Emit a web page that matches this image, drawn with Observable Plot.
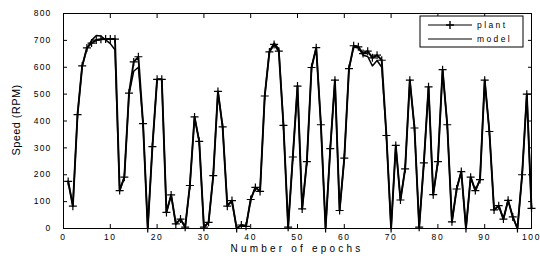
<!DOCTYPE html>
<html><head><meta charset="utf-8">
<script src="https://cdn.jsdelivr.net/npm/d3@7"></script>
<script src="https://cdn.jsdelivr.net/npm/@observablehq/plot@0.6"></script>
<style>body{margin:0;background:#fff} svg{display:block}</style>
</head><body><div id="chart"></div>
<script>
const plant = [175,83,424,605,672,690,701,704,705,705,
705,141,191,504,620,639,390,0,305,555,
555,60,125,17,35,5,160,415,324,5,
23,197,510,378,83,104,0,13,8,108,
153,138,493,657,685,660,384,5,266,530,
73,249,599,673,386,0,297,552,67,262,
595,680,676,651,660,635,645,626,346,0,
309,106,222,552,374,5,244,527,126,249,
591,386,25,147,212,0,191,141,182,552,
361,69,85,35,105,43,0,200,500,75];
const model = [175,83,424,605,670,700,718,716,702,688,
665,141,191,500,585,600,390,0,305,555,
555,60,125,17,35,5,160,415,324,5,
23,197,510,378,90,100,0,13,8,108,
153,138,493,660,690,668,384,5,266,530,
73,249,599,673,386,0,297,552,67,262,
595,675,672,645,640,605,625,600,346,0,
309,106,222,552,374,5,244,527,126,249,
591,386,25,147,212,0,191,141,182,552,
361,69,85,35,105,43,0,200,500,75];
const xTicks = [0,10,20,30,40,50,60,70,80,90,100];
const yTicks = [0,100,200,300,400,500,600,700,800];
const seriesNames = ["plant","model"];
const xLabel = "Number of epochs";
const yLabel = "Speed (RPM)";

const epochs = plant.map((_, i) => i + 1);
const plantData = epochs.map((e, i) => ({epoch: e, speed: plant[i]}));
const modelData = epochs.map((e, i) => ({epoch: e, speed: model[i]}));

const plusSymbol = {draw(ctx, size) {
  const r = Math.sqrt(size / Math.PI);
  ctx.moveTo(-r, 0); ctx.lineTo(r, 0);
  ctx.moveTo(0, -r); ctx.lineTo(0, r);
}};

const font = "'Liberation Sans', Arial, sans-serif";

const chart = Plot.plot({
  width: 540, height: 262,
  marginLeft: 63, marginRight: 9, marginTop: 13, marginBottom: 34,
  style: {fontFamily: font, fontSize: "8.5px", background: "#fff", color: "#000", overflow: "visible"},
  x: {domain: [0, 100]},
  y: {domain: [0, 800]},
  marks: [
    Plot.axisX({anchor: "bottom", ticks: xTicks, tickSize: -4, tickPadding: 9, label: null}),
    Plot.axisX({anchor: "top", ticks: xTicks, tickSize: -4, tickFormat: () => "", label: null}),
    Plot.axisY({anchor: "left", ticks: yTicks, tickSize: -4, tickPadding: 16, label: null}),
    Plot.axisY({anchor: "right", ticks: yTicks, tickSize: -4, tickFormat: () => "", label: null}),
    Plot.lineY(modelData, {x: "epoch", y: "speed", stroke: "#000", strokeWidth: 1.5}),
    Plot.lineY(plantData, {x: "epoch", y: "speed", stroke: "#000", strokeWidth: 1.9}),
    Plot.dot(plantData, {x: "epoch", y: "speed", symbol: plusSymbol, r: 4, stroke: "#000", fill: "none", strokeWidth: 1.2}),
    Plot.frame({stroke: "#000", strokeWidth: 1})
  ]
});

const svg = d3.select(chart);
svg.selectAll('g[aria-label="x-axis tick label"] text').style("letter-spacing", "1.6px");
svg.selectAll('g[aria-label="y-axis tick label"] text').style("letter-spacing", "1.2px");

// axis titles
svg.append("text").attr("x", 297).attr("y", 252).attr("text-anchor", "middle")
  .style("font-family", font).style("font-size", "10px").style("letter-spacing", "3.2px").attr("fill", "#000")
  .text(xLabel);
svg.append("text").attr("transform", "translate(20,120) rotate(-90)").attr("text-anchor", "middle")
  .style("font-family", font).style("font-size", "11px").style("letter-spacing", "0.4px").attr("fill", "#000")
  .text(yLabel);

// legend
const lg = svg.append("g");
lg.append("rect").attr("x", 420).attr("y", 16).attr("width", 103).attr("height", 31)
  .attr("fill", "#fff").attr("stroke", "#000").attr("stroke-width", 1);
const rows = [25, 39];
seriesNames.forEach((name, i) => {
  lg.append("line").attr("x1", 428).attr("x2", 472).attr("y1", rows[i]).attr("y2", rows[i])
    .attr("stroke", "#000").attr("stroke-width", 1.2);
  lg.append("text").attr("x", 477).attr("y", rows[i] + 3).attr("text-anchor", "start")
    .style("font-family", font).style("font-size", "8.5px").style("letter-spacing", "2.4px")
    .attr("fill", "#000").text(name);
});
lg.append("path").attr("d", "M446,25H454M450,21V29").attr("stroke", "#000").attr("stroke-width", 1.4);

document.getElementById("chart").appendChild(chart);
</script>
</body></html>
